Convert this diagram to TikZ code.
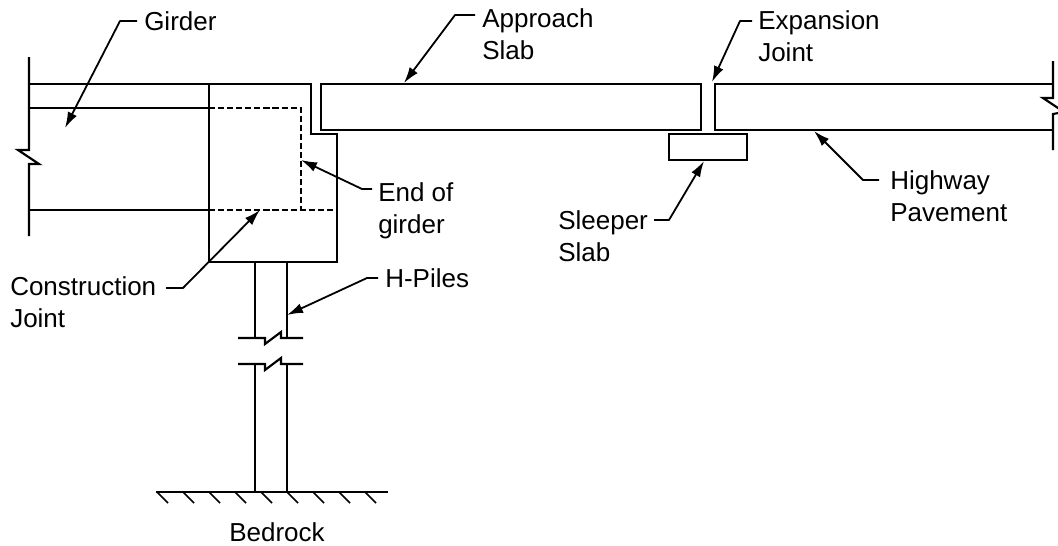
\documentclass[tikz,border=0pt]{standalone}
\usepackage{fontspec}
\setmainfont{Liberation Sans}
\usetikzlibrary{arrows.meta}
\tikzset{
  x=0.75pt,y=-0.75pt,
  struct/.style={line width=1.6pt,line join=miter,black},
  hidden/.style={line width=1.35pt,black,dash pattern=on 4.6pt off 2.2pt},
  leader/.style={line width=1.35pt,black,-{Latex[length=12pt,width=7.5pt]},line join=round},
  hatch/.style={line width=1.2pt,black},
  lab/.style={font=\fontsize{19.5pt}{24pt}\selectfont,anchor=west,inner sep=0pt,align=left,text=black},
  slab/.style={struct,draw,inner sep=0pt,outer sep=0pt,anchor=north west}
}
\begin{document}
\begin{tikzpicture}
\useasboundingbox (0,0) rectangle (1058,546);
% girder and abutment
\draw[struct] (29,57) -- (29,150) -- (18,150) -- (39,164) -- (29,164) -- (29,236);
\draw[struct] (29,84) -- (311,84) -- (311,134) -- (337,134) -- (337,262) -- (209,262) -- (209,84);
\draw[struct] (29,108) -- (209,108);
\draw[struct] (29,210) -- (209,210);
\draw[hidden] (209,108) -- (301,108) -- (301,211);
\draw[hidden] (209,210) -- (337,210);
% slabs
\node[slab,minimum width=285pt,minimum height=34.5pt] (approachslab) at (321,84) {};
\draw[struct] (1053,84) -- (715,84) -- (715,130) -- (1053,130);
\draw[struct] (1053,61) -- (1053,98) -- (1043,98) -- (1064,112) -- (1053,114) -- (1053,150);
\node[slab,minimum width=58.5pt,minimum height=19.5pt] (sleeperslab) at (669,134) {};
% piles
\draw[struct] (255,262) -- (255,338);
\draw[struct] (287,262) -- (287,338);
\draw[struct] (238,338) -- (265,338) -- (265,344) -- (281,332) -- (281,338) -- (303,338);
\draw[struct] (238,364) -- (265,364) -- (265,370) -- (281,358) -- (281,364) -- (303,364);
\draw[struct] (255,364) -- (255,492);
\draw[struct] (287,364) -- (287,492);
% bedrock
\draw[struct] (156,492) -- (388,492);
\foreach \hx in {157,183,209,235,261,287,313,339,365}
  \draw[hatch] (\hx,492) -- +(11,11);
% labels
\node[lab] (girderlab) at (144,21) {Girder};
\node[lab,anchor=north west] (approachlab) at (482,8) {Approach\\Slab};
\node[lab,anchor=north west] (expansionlab) at (758,10) {Expansion\\Joint};
\node[lab,anchor=north west] (endlab) at (378,182) {End of\\girder};
\node[lab,anchor=north west] (highwaylab) at (890,170) {Highway\\Pavement};
\node[lab,anchor=north west] (sleeperlab) at (558,210) {Sleeper\\Slab};
\node[lab,anchor=north west] (constrlab) at (10,276) {Construction\\Joint};
\node[lab] (pileslab) at (385,278) {H-Piles};
\node[lab,anchor=center] (bedrocklab) at (277,532) {Bedrock};
% leader points
\coordinate (g0) at (137,21); \coordinate (g1) at (120,21); \coordinate (g2) at (65,128);
\coordinate (a0) at (475,15); \coordinate (a1) at (455,15); \coordinate (a2) at (404,83);
\coordinate (e0) at (752,21); \coordinate (e1) at (740,21); \coordinate (e2) at (712,82);
\coordinate (h0) at (879,180); \coordinate (h1) at (863,180); \coordinate (h2) at (814,131);
\coordinate (s0) at (654,220); \coordinate (s1) at (669,220); \coordinate (s2) at (704,161);
\coordinate (n0) at (372,189); \coordinate (n1) at (362,189); \coordinate (n2) at (301,160);
\coordinate (c0) at (166,288); \coordinate (c1) at (183,288); \coordinate (c2) at (260,210);
\coordinate (p0) at (378,278); \coordinate (p1) at (367,278); \coordinate (p2) at (287,315);
\draw[leader] (g0) -- (g1) -- (g2);
\draw[leader] (a0) -- (a1) -- (a2);
\draw[leader] (e0) -- (e1) -- (e2);
\draw[leader] (h0) -- (h1) -- (h2);
\draw[leader] (s0) -- (s1) -- (s2);
\draw[leader] (n0) -- (n1) -- (n2);
\draw[leader] (c0) -- (c1) -- (c2);
\draw[leader] (p0) -- (p1) -- (p2);
\end{tikzpicture}
\end{document}
